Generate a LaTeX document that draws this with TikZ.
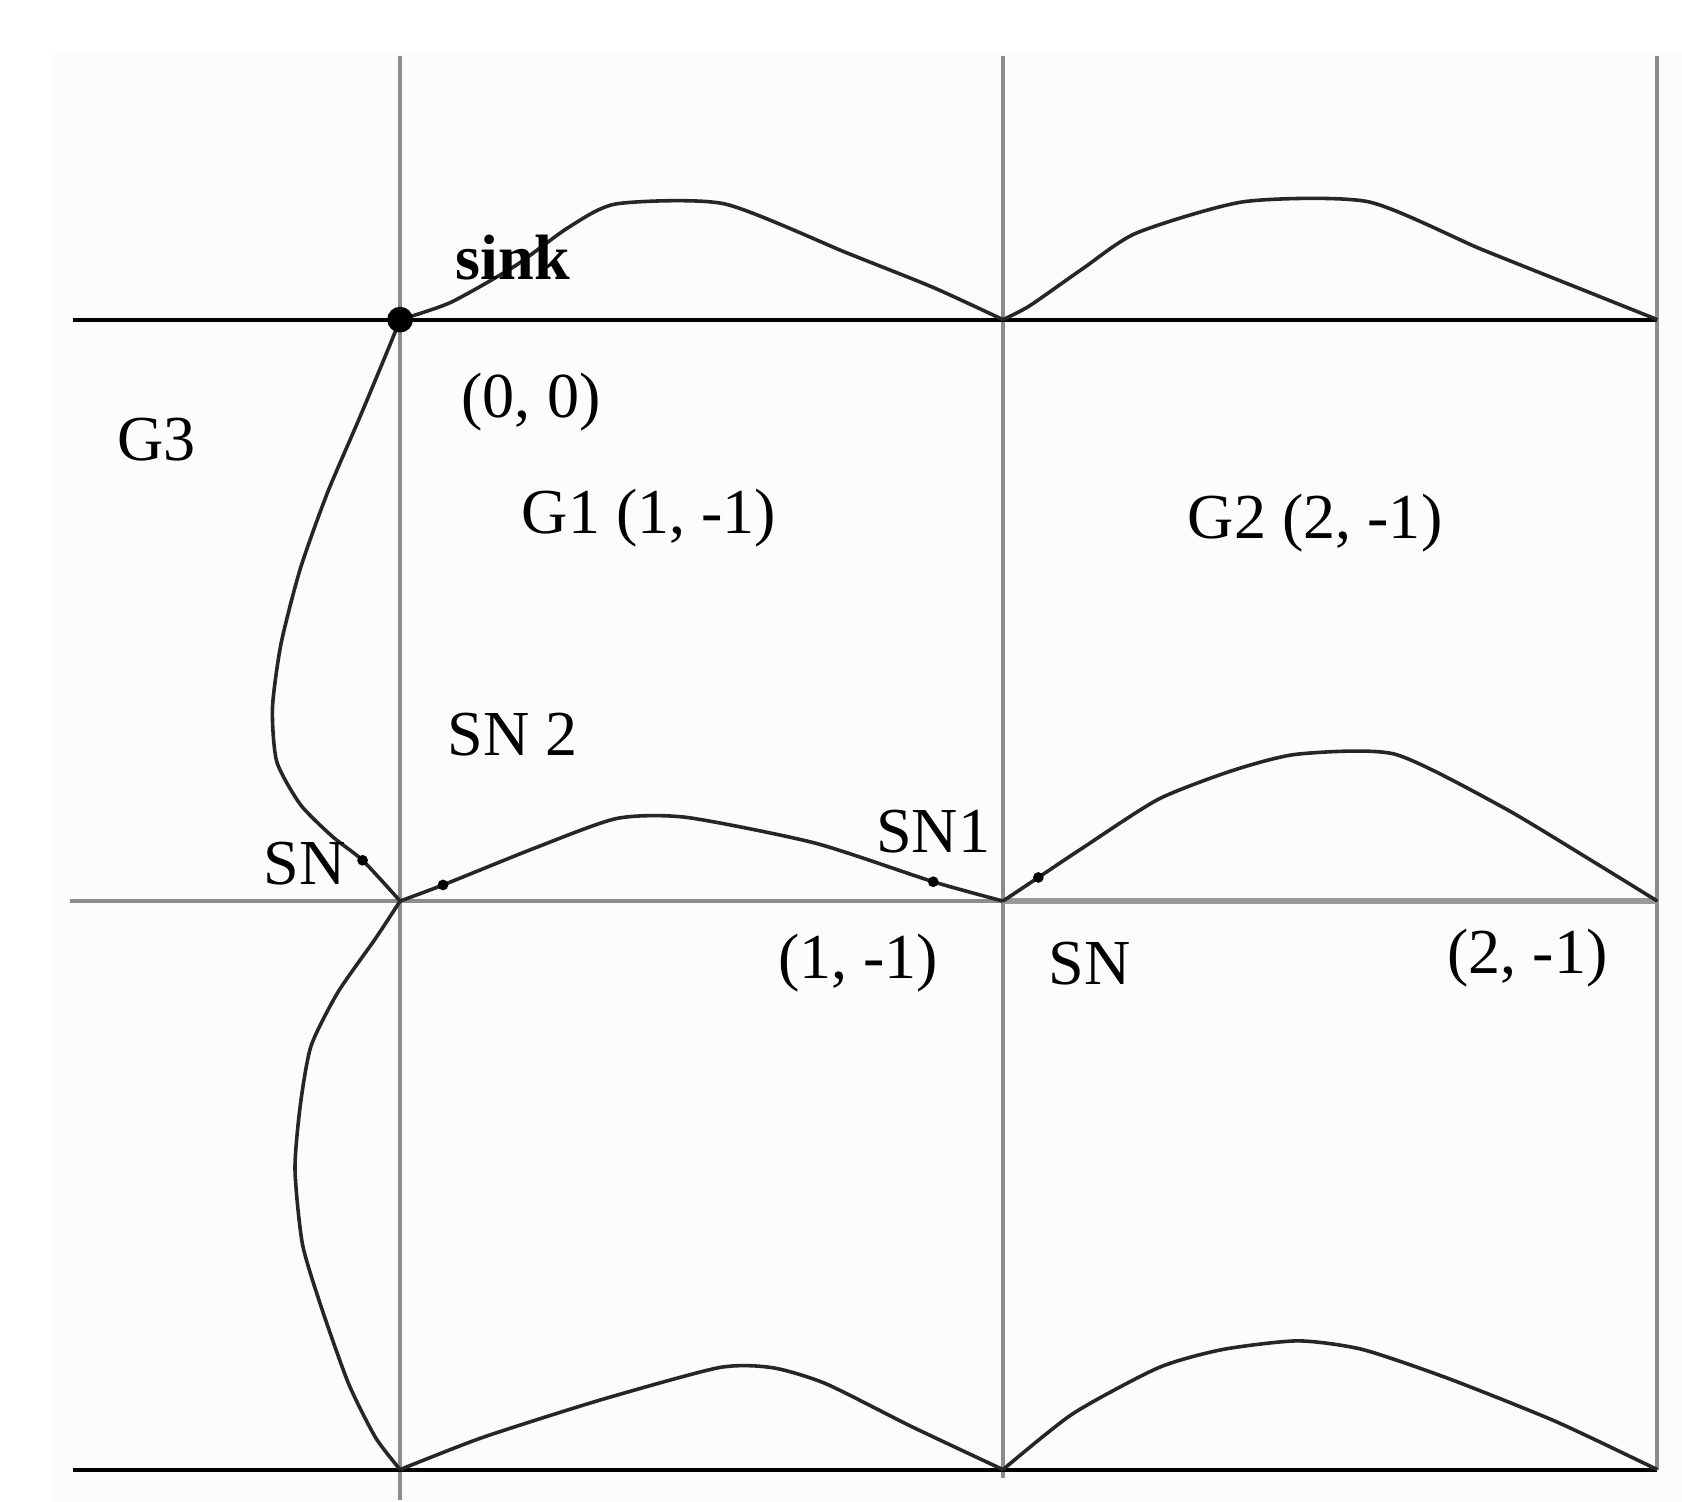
\documentclass[tikz,border=0pt]{standalone}
\usepackage{fontspec}
\setmainfont{Liberation Serif}
\begin{document}
\begin{tikzpicture}[x=0.1mm,y=-0.1mm,
  vline/.style={draw=black!45,line width=1.1pt},
  hline/.style={draw=black,line width=1.1pt},
  wave/.style={draw=black!85,line width=0.95pt},
  dot/.style={circle,fill=black,inner sep=0pt,minimum size=1mm},
  lbl/.style={font=\fontsize{17}{20}\selectfont,inner sep=0pt}]
\useasboundingbox (0,0) rectangle (1568,1400);
\fill[black!1] (48,50) rectangle (1568,1400);

% grid crossings
\coordinate (g00) at (373,298);
\coordinate (g10) at (935,298);
\coordinate (g20) at (1545,298);
\coordinate (g01) at (373,840);
\coordinate (g11) at (935,840);
\coordinate (g21) at (1545,840);
\coordinate (g02) at (373,1370);
\coordinate (g12) at (935,1370);
\coordinate (g22) at (1545,1370);

% grid lines
\draw[vline] (373,52) -- (373,1398);
\draw[vline] (935,52) -- (935,1378);
\draw[vline] (1545,52) -- (g22);
\draw[hline] (68,298) -- (g20);
\draw[vline] (65,840) -- (g11);
\draw[draw=black!40,line width=1.8pt] (g11) -- (g21);
\draw[hline] (68,1370) -- (g22);

% waves
\draw[wave] plot[smooth,tension=.4] coordinates {(g00) (420,282) (480,248) (530,212) (575,190) (675,190) (790,236) (870,268) (g10)};
\draw[wave] plot[smooth,tension=.4] coordinates {(g10) (960,285) (1010,250) (1060,217) (1160,188) (1275,188) (1380,232) (1470,268) (g20)};
\draw[wave] plot[smooth,tension=.4] coordinates {(g01) (413,825) (500,790) (575,763) (640,762) (760,786) (870,822) (g11)};
\draw[wave] plot[smooth,tension=.4] coordinates {(g11) (968,818) (1010,790) (1080,745) (1150,718) (1210,703) (1300,703) (1400,752) (1480,800) (g21)};
\draw[wave] plot[smooth,tension=.4] coordinates {(g02) (450,1340) (560,1305) (670,1275) (720,1275) (770,1290) (850,1330) (g12)};
\draw[wave] plot[smooth,tension=.4] coordinates {(g12) (1000,1318) (1080,1275) (1140,1258) (1210,1250) (1270,1258) (1350,1285) (1450,1325) (g22)};
\draw[wave] plot[smooth,tension=.4] coordinates {(g00) (360,330) (335,390) (305,460) (280,530) (262,600) (254,660) (258,710) (280,750) (310,780) (338,802) (g01)};
\draw[wave] plot[smooth,tension=.4] coordinates {(g01) (350,875) (315,925) (290,975) (280,1030) (275,1090) (282,1160) (300,1220) (325,1290) (350,1340) (g02)};

% sensor nodes
\node[circle,fill=black,inner sep=0pt,minimum size=2.4mm] (sink) at (g00) {};
\node[dot] (sn) at (338,802) {};
\node[dot] (sn2) at (413,825) {};
\node[dot] (sn1) at (870,822) {};
\node[dot] (snr) at (968,818) {};

% labels
\node[lbl] (sinklbl) at (478,240) {\textbf{sink}};
\node[lbl] (p00) at (495,375) {(0, 0)};
\node[lbl] (g3lbl) at (146,410) {G3};
\node[lbl] (g1lbl) at (605,483) {G1 (1, -1)};
\node[lbl] (g2lbl) at (1226,488) {G2 (2, -1)};
\node[lbl] (sn2lbl) at (478,685) {SN 2};
\node[lbl] (snlbl) at (284,805) {SN};
\node[lbl] (sn1lbl) at (870,775) {SN1};
\node[lbl] (p11) at (800,898) {(1, -1)};
\node[lbl] (snrlbl) at (1016,898) {SN};
\node[lbl] (p21) at (1424,893) {(2, -1)};
\end{tikzpicture}
\end{document}
